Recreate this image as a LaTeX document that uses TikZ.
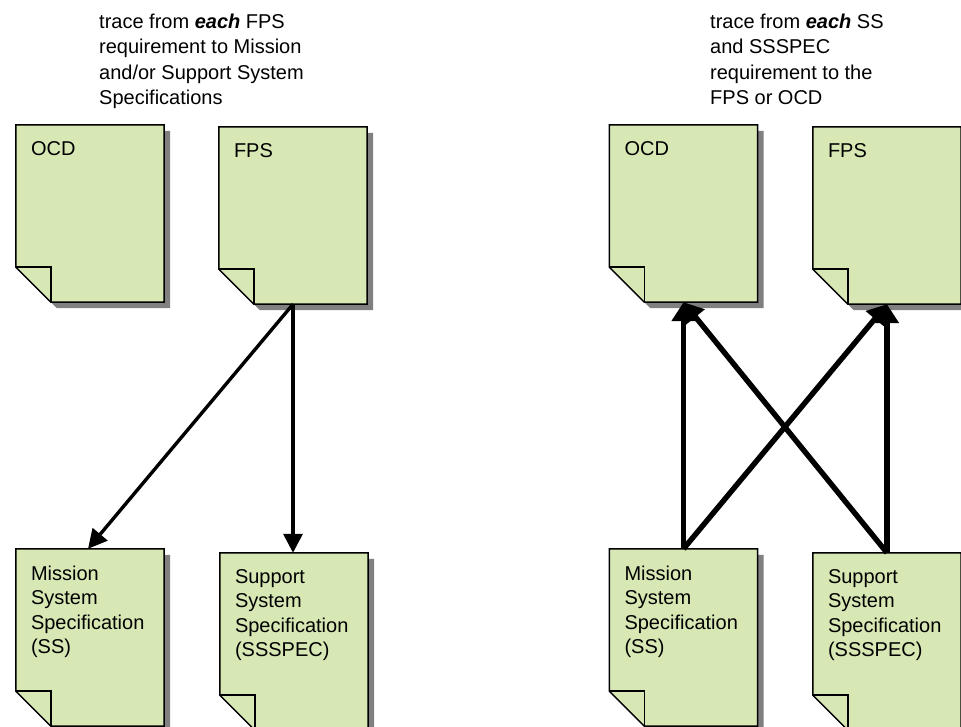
\documentclass[tikz,border=0pt]{standalone}
\usepackage{fontspec}
\setmainfont{Liberation Sans}
\usetikzlibrary{arrows.meta}
\definecolor{docgreen}{RGB}{216,232,180}
\definecolor{docshadow}{RGB}{128,128,128}
\tikzset{
  docbox/.style={minimum width=148pt, minimum height=177pt, inner sep=0pt, draw=none},
  doctext/.style={anchor=north west, inner sep=0pt, align=left,
    font=\fontsize{20}{24.5}\selectfont},
  notetext/.style={anchor=north west, inner sep=0pt, align=left,
    font=\fontsize{20}{25.5}\selectfont},
  thinlink/.style={line width=3.4pt, -{Triangle[length=19pt,width=19pt]}},
  thicklink/.style={line width=5.4pt, -{Triangle[length=19pt,width=23pt]}},
}
% document sheet with a folded lower-left corner and a drop shadow
\newcommand{\docsheet}[1]{%
  \fill[docshadow] ([shift={(6pt,-6pt)}]#1.north west) -- ([shift={(6pt,-6pt)}]#1.north east)
    -- ([shift={(6pt,-6pt)}]#1.south east) -- ([shift={(41pt,-6pt)}]#1.south west)
    -- ([shift={(6pt,29pt)}]#1.south west) -- cycle;
  \filldraw[fill=docgreen, draw=black, line width=1.5pt, line join=miter]
    (#1.north west) -- (#1.north east) -- (#1.south east)
    -- ([xshift=35pt]#1.south west) -- ([yshift=35pt]#1.south west) -- cycle;
  \draw[line width=1.5pt, line join=miter]
    ([yshift=35pt]#1.south west) -- ([shift={(35pt,35pt)}]#1.south west)
    -- ([xshift=35pt]#1.south west);
}
\begin{document}
\begin{tikzpicture}[x=1pt,y=-1pt]
\useasboundingbox (0,0) rectangle (961,726);
\clip (0,0) rectangle (961,726);

% left group: FPS traced down to the specifications
\node[docbox] (ocdL) at (90,213.5) {};
\node[docbox] (fpsL) at (293,215.5) {};
\node[docbox] (ssL) at (90,637.5) {};
\node[docbox] (specL) at (294,641.5) {};

% right group: specifications traced back up to FPS and OCD
\node[docbox] (ocdR) at (683.5,213.5) {};
\node[docbox] (fpsR) at (887,215.5) {};
\node[docbox] (ssR) at (683.5,637.5) {};
\node[docbox] (specR) at (887,641.5) {};

\foreach \d in {ocdL,fpsL,ssL,specL,ocdR,fpsR,ssR,specR}{\docsheet{\d}}

% sheet titles
\node[doctext] (tOcdL) at ([shift={(15pt,-16.5pt)}]ocdL.north west) {OCD};
\node[doctext] (tFpsL) at ([shift={(15pt,-16.5pt)}]fpsL.north west) {FPS};
\node[doctext] (tSsL) at ([shift={(15pt,-16.5pt)}]ssL.north west) {Mission\\System\\Specification\\(SS)};
\node[doctext] (tSpecL) at ([shift={(15pt,-16.5pt)}]specL.north west) {Support\\System\\Specification\\(SSSPEC)};
\node[doctext] (tOcdR) at ([shift={(15pt,-16.5pt)}]ocdR.north west) {OCD};
\node[doctext] (tFpsR) at ([shift={(15pt,-16.5pt)}]fpsR.north west) {FPS};
\node[doctext] (tSsR) at ([shift={(15pt,-16.5pt)}]ssR.north west) {Mission\\System\\Specification\\(SS)};
\node[doctext] (tSpecR) at ([shift={(15pt,-16.5pt)}]specR.north west) {Support\\System\\Specification\\(SSSPEC)};

% notes above each group
\node[notetext] (noteL) at (99,13.5) {trace from \textbf{\textit{each}} FPS\\requirement to Mission\\and/or Support System\\Specifications};
\node[notetext] (noteR) at (710,13.5) {trace from \textbf{\textit{each}} SS\\and SSSPEC\\requirement to the\\FPS or OCD};

% trace links
\draw[thinlink] (fpsL.south) -- ([xshift=-2pt]ssL.north);
\draw[thinlink] (fpsL.south) -- (fpsL.south |- specL.north);

\draw[thicklink] (ssR.north) -- (ocdR.south);
\draw[thicklink] (ssR.north) -- (fpsR.south);
\draw[thicklink] (specR.north) -- (fpsR.south);
\draw[thicklink] (specR.north) -- (ocdR.south);
\end{tikzpicture}
\end{document}
